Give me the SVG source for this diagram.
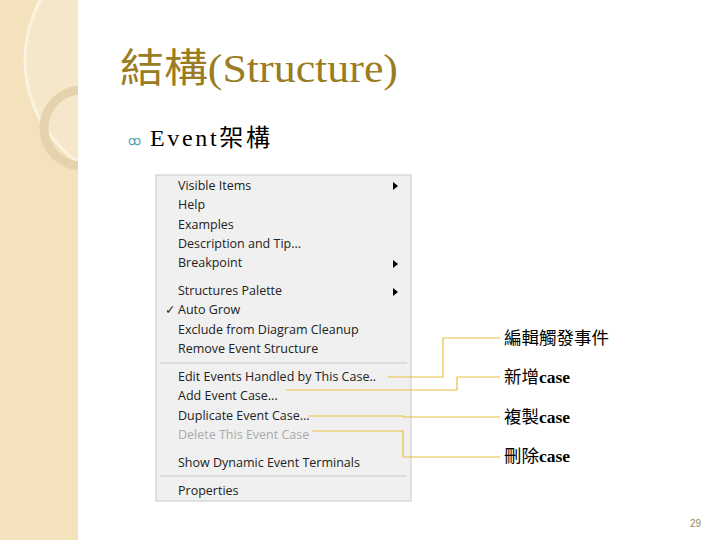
<svg xmlns="http://www.w3.org/2000/svg" width="720" height="540" viewBox="0 0 720 540">
<style>
.m{font-family:"Open Sans","DejaVu Sans",sans-serif;font-size:12.5px;fill:#222}
.lb{font-family:"Liberation Serif","Noto Sans CJK TC",serif;font-size:17.5px;fill:#000}
.ln{fill:none;stroke:#e8c040;stroke-width:1.2}
</style>
<defs><clipPath id="sc"><rect x="0" y="0" width="78" height="540"/></clipPath></defs>
<rect width="720" height="540" fill="#fff"/>
<g id="sidebar">
<rect x="0" y="0" width="78" height="540" fill="#f3e2bb"/>
<g clip-path="url(#sc)">
<circle cx="150" cy="60" r="125" fill="#f6ebd2" stroke="none" opacity="0.6"/>
<circle cx="150" cy="60" r="125" fill="none" stroke="#fbf3e2" stroke-width="3"/>
<circle cx="82" cy="128" r="38" fill="none" stroke="#e4d3ad" stroke-width="9"/>
</g>
</g>
<g id="title"><text x="120" y="82" font-family="'Liberation Serif','Noto Sans CJK TC',serif" font-size="40" fill="#9a7c22" textLength="278" lengthAdjust="spacingAndGlyphs">結構(Structure)</text></g>
<g id="bullet"><text x="128" y="145" font-family="'Liberation Serif',serif" font-size="13" fill="#4aa0b0">ꝏ</text>
<text x="150" y="146" font-family="'Liberation Serif','Noto Sans CJK TC',serif" font-size="24" fill="#000" textLength="120" lengthAdjust="spacing">Event架構</text></g>
<g id="menu">
<rect x="156" y="175" width="255" height="326" fill="#f0f0f0" stroke="#c8c8c8"/>
<text class="m" x="178" y="190">Visible Items</text>
<text class="m" x="178" y="209">Help</text>
<text class="m" x="178" y="229">Examples</text>
<text class="m" x="178" y="248">Description and Tip...</text>
<text class="m" x="178" y="267">Breakpoint</text>
<text class="m" x="178" y="295">Structures Palette</text>
<text class="m" x="178" y="314">Auto Grow</text>
<text class="m" x="165" y="314" font-size="10">✓</text>
<text class="m" x="178" y="334">Exclude from Diagram Cleanup</text>
<text class="m" x="178" y="353">Remove Event Structure</text>
<line x1="160" y1="363" x2="407" y2="363" stroke="#c8c8c8"/>
<text class="m" x="178" y="381">Edit Events Handled by This Case..</text>
<text class="m" x="178" y="400">Add Event Case...</text>
<text class="m" x="178" y="420">Duplicate Event Case...</text>
<text class="m" x="178" y="439" style="fill:#aaa">Delete This Event Case</text>
<text class="m" x="178" y="467">Show Dynamic Event Terminals</text>
<line x1="160" y1="476" x2="407" y2="476" stroke="#c8c8c8"/>
<text class="m" x="178" y="495">Properties</text>
<path d="M393 182l5 4-5 4zM393 260l5 4-5 4zM393 288l5 4-5 4z" fill="#000"/>
</g>
<g id="connectors">
<path class="ln" d="M388 377H443V338H500"/>
<path class="ln" d="M286 390H457V377H500"/>
<path class="ln" d="M308 416H403V417H500"/>
<path class="ln" d="M312 431H403V457H500"/>
</g>
<g id="labels">
<text class="lb" x="504" y="344">編輯觸發事件</text>
<text class="lb" x="504" y="383">新增<tspan font-weight="bold">case</tspan></text>
<text class="lb" x="504" y="423">複製<tspan font-weight="bold">case</tspan></text>
<text class="lb" x="504" y="462">刪除<tspan font-weight="bold">case</tspan></text>
</g>
<text x="690" y="527" font-family="'Liberation Sans',sans-serif" font-size="10" fill="#9a8a5a">29</text>
</svg>
